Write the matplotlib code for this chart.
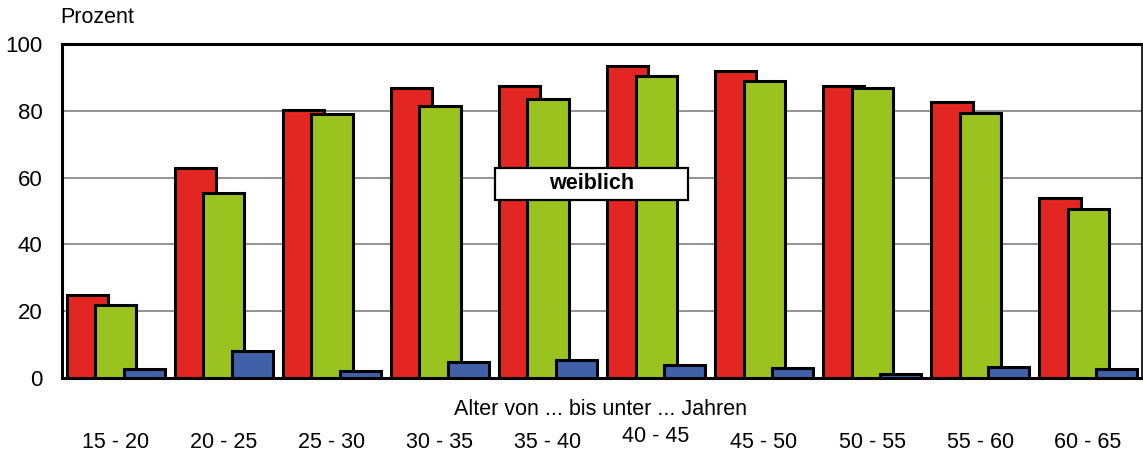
import numpy as np
import matplotlib.pyplot as plt
import matplotlib.transforms as mtransforms
from matplotlib.patches import Rectangle

plt.rcParams['font.family'] = ['Liberation Sans', 'DejaVu Sans']

age_groups = ['15 - 20', '20 - 25', '25 - 30', '30 - 35', '35 - 40',
              '40 - 45', '45 - 50', '50 - 55', '55 - 60', '60 - 65']
red_vals = [24.9, 62.9, 80.2, 86.8, 87.4, 93.4, 91.9, 87.4, 82.6, 53.9]
green_vals = [21.9, 55.4, 79.0, 81.4, 83.5, 90.4, 88.9, 86.8, 79.3, 50.6]
blue_vals = [2.7, 8.1, 2.1, 4.8, 5.4, 3.9, 3.0, 1.2, 3.3, 2.7]
y_ticks = [0, 20, 40, 60, 80, 100]

RED = '#e32621'
GREEN = '#9bc31f'
BLUE = '#4061a8'

fig = plt.figure(figsize=(11.43, 4.59), dpi=100)
ax = fig.add_axes([0.0542, 0.1765, 0.945, 0.7277])

x = np.arange(len(age_groups))
w = 0.38
step = 0.26
for k, (vals, col) in enumerate([(red_vals, RED), (green_vals, GREEN), (blue_vals, BLUE)]):
    ax.bar(x + (k - 1) * step, vals, width=w, color=col, edgecolor='black',
           linewidth=2.2, zorder=2 + k)

ax.set_xlim(-0.5, len(age_groups) - 0.5)
ax.set_ylim(0, 100)
ax.set_yticks(y_ticks)
ax.set_yticklabels([str(t) for t in y_ticks], fontsize=16)
ax.tick_params(axis='y', length=0, pad=14)
ax.set_xticks([])
ax.yaxis.grid(True, color='#808080', linewidth=1.2, zorder=0)
ax.set_axisbelow(True)
for s in ax.spines.values():
    s.set_linewidth(2.2)
    s.set_color('black')
ax.spines['right'].set_linewidth(1.2)

# x labels below the axis
trans = mtransforms.blended_transform_factory(ax.transData, fig.transFigure)
for i, lab in enumerate(age_groups):
    yy = 0.012 if lab != '40 - 45' else 0.026
    ax.text(i, yy, lab, transform=trans, ha='center', va='bottom', fontsize=15.5)

fig.text(0.525, 0.107, 'Alter von ... bis unter ... Jahren', ha='center',
         va='center', fontsize=15.5)
fig.text(0.053, 0.938, 'Prozent', ha='left', va='bottom', fontsize=15.5)

# "weiblich" label box
bx, by, bw, bh = 4.407, 58.1, 1.787, 9.6
ax.add_patch(Rectangle((bx - bw / 2, by - bh / 2), bw, bh, facecolor='white',
                       edgecolor='black', linewidth=1.6, zorder=9))
ax.text(bx, by, 'weiblich', ha='center', va='center', fontsize=15.5,
        fontweight='bold', zorder=10)

fig.savefig('out.png', dpi=100)
